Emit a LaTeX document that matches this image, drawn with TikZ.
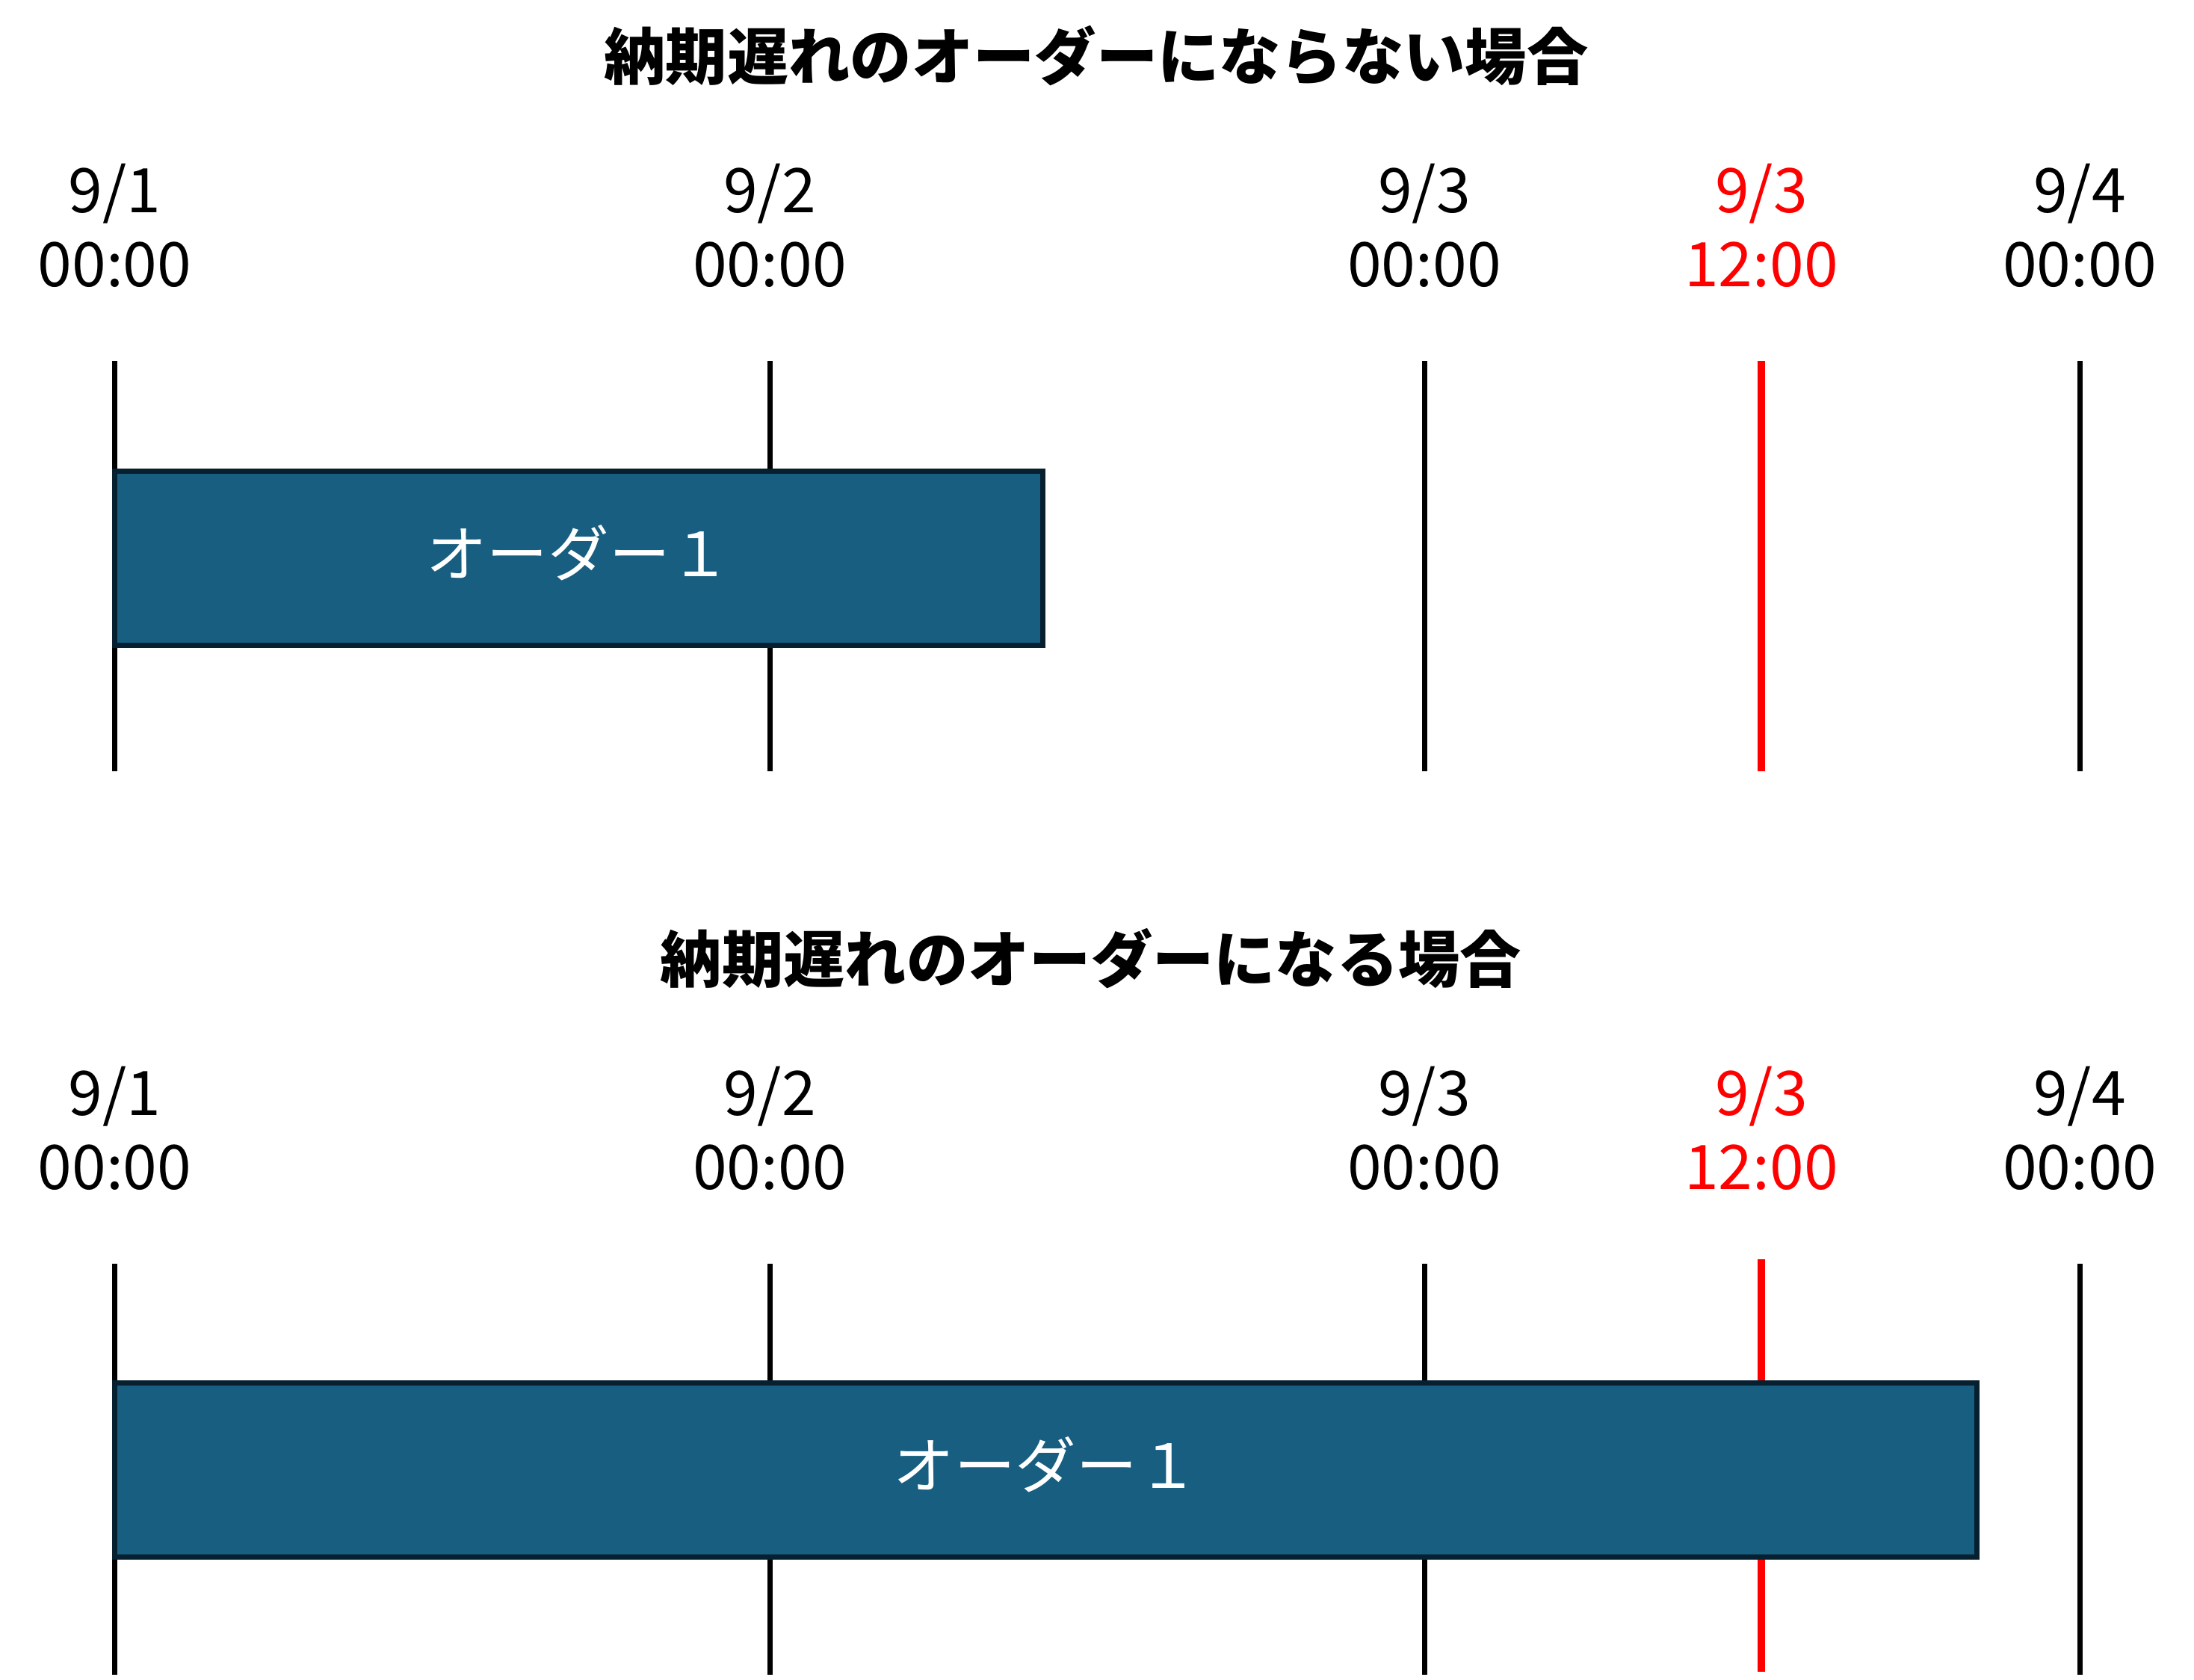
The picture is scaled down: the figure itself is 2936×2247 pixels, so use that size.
\documentclass[tikz,border=0pt]{standalone}
\usepackage{fontspec}
\setmainfont{Noto Sans CJK JP}
\usetikzlibrary{positioning}
\definecolor{orderfill}{RGB}{23,94,128}
\definecolor{orderedge}{RGB}{6,32,48}

\begin{document}
\begin{tikzpicture}[
    x=0.01cm, y=-0.01cm,
    heading/.style={font=\bfseries\fontsize{23.4}{28}\selectfont},
    datelbl/.style={anchor=base, inner sep=0pt, font=\fontsize{23.4}{28}\selectfont},
    tickline/.style={line width=0.07cm, black},
    dueline/.style={line width=0.1cm, red},
    orderbar/.style={draw=orderedge, fill=orderfill, line width=0.07cm, inner sep=0pt, outer sep=0pt,
        anchor=north west},
    bartext/.style={text=white, font=\fontsize{23.2}{26}\selectfont}
]
    \useasboundingbox (0,0) rectangle (2936,2247);

    % case 1: no late order
    \node[heading] (title1) at (1467,75) {納期遅れのオーダーにならない場合};
    \foreach \x/\d/\n in {153.5/1/a, 1030/2/b, 1906/3/c, 2783/4/e} {
        \node[datelbl] (day1\n) at (\x,284) {9/\d};
        \node[datelbl] (time1\n) at (\x,383) {00:00};
        \coordinate (top1\n) at (\x,483);
        \coordinate (bot1\n) at (\x,1032);
        \draw[tickline] (top1\n) -- (bot1\n);
    }
    \node[datelbl, text=red] (day1d) at (2357,284) {9/3};
    \node[datelbl, text=red] (time1d) at (2357,383) {12:00};
    \coordinate (top1d) at (2357,483);
    \coordinate (bot1d) at (2357,1032);
    \draw[dueline] (top1d) -- (bot1d);
    \node[orderbar, minimum width=12.41cm, minimum height=2.33cm] (order1) at (153.5,630.5) {};
    \node[bartext] (name1) at ([yshift=0.07cm]order1.center) {オーダー１};

    % case 2: late order
    \node[heading] (title2) at (1460,1283) {納期遅れのオーダーになる場合};
    \foreach \x/\d/\n in {153.5/1/a, 1030/2/b, 1906/3/c, 2783/4/e} {
        \node[datelbl] (day2\n) at (\x,1492) {9/\d};
        \node[datelbl] (time2\n) at (\x,1591) {00:00};
        \coordinate (top2\n) at (\x,1691);
        \coordinate (bot2\n) at (\x,2241);
        \draw[tickline] (top2\n) -- (bot2\n);
    }
    \node[datelbl, text=red] (day2d) at (2357,1492) {9/3};
    \node[datelbl, text=red] (time2d) at (2357,1591) {12:00};
    \coordinate (top2d) at (2357,1685);
    \coordinate (bot2d) at (2357,2237);
    \draw[dueline] (top2d) -- (bot2d);
    \node[orderbar, minimum width=24.91cm, minimum height=2.33cm] (order2) at (153.5,1850.5) {};
    \node[bartext] (name2) at ([yshift=0.07cm]order2.center) {オーダー１};
\end{tikzpicture}
\end{document}
